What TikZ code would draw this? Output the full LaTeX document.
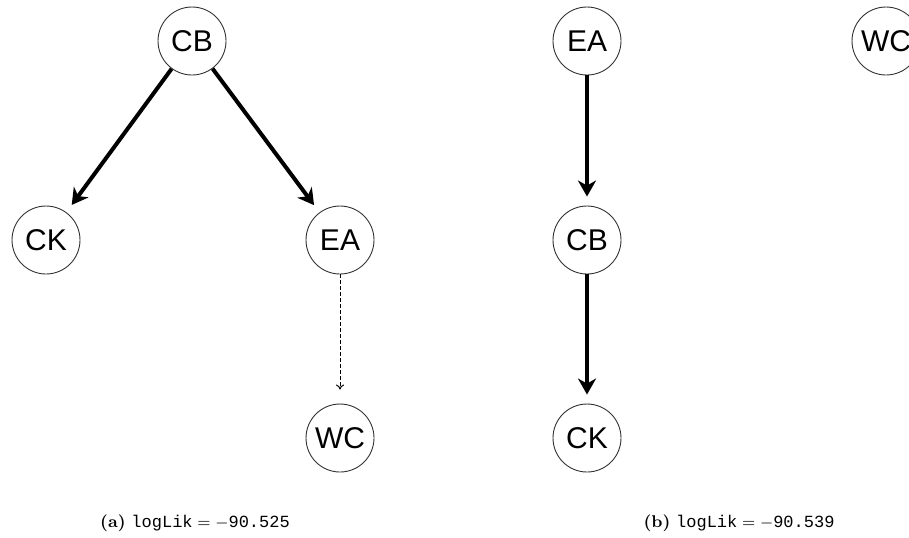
\documentclass[tikz,border=0pt]{standalone}
\usepackage{fontspec}
\setsansfont{Liberation Sans}
\setmonofont{Liberation Mono}
\usetikzlibrary{arrows.meta}

\begin{document}
\begin{tikzpicture}[x=0.5pt,y=-0.5pt,
  var/.style={circle,draw=black!80,line width=0.45pt,minimum size=34pt,inner sep=0pt,
    font=\sffamily\fontsize{15}{18}\selectfont},
  edge/.style={-{Stealth[length=8pt,width=9pt,inset=2.5pt]},line width=2pt,shorten >=4.5pt},
  weak/.style={-{To[length=2.5pt,width=4pt]},dash pattern=on 2pt off 1pt,line width=0.5pt,shorten >=7pt},
  subcap/.style={font=\fontsize{8.5}{10}\selectfont}]
\clip (0,0) rectangle (909,537);
% (a)
\node[var] (CBa) at (192,41) {CB};
\node[var] (CKa) at (46,240) {CK};
\node[var] (EAa) at (340,240) {EA};
\node[var] (WCa) at (340,438) {WC};
\draw[edge] (CBa)--(CKa);
\draw[edge] (CBa)--(EAa);
\draw[weak] (EAa)--(WCa);
\node[subcap] (capa) at (195,523) {\textbf{(a)} $\texttt{logLik} = -\texttt{90.525}$};
% (b)
\node[var] (EAb) at (587,41) {EA};
\node[var] (CBb) at (587,240) {CB};
\node[var] (CKb) at (587,438) {CK};
\node[var] (WCb) at (886,41) {WC};
\draw[edge] (EAb)--(CBb);
\draw[edge] (CBb)--(CKb);
\node[subcap] (capb) at (739,523) {\textbf{(b)} $\texttt{logLik} = -\texttt{90.539}$};
\end{tikzpicture}
\end{document}
